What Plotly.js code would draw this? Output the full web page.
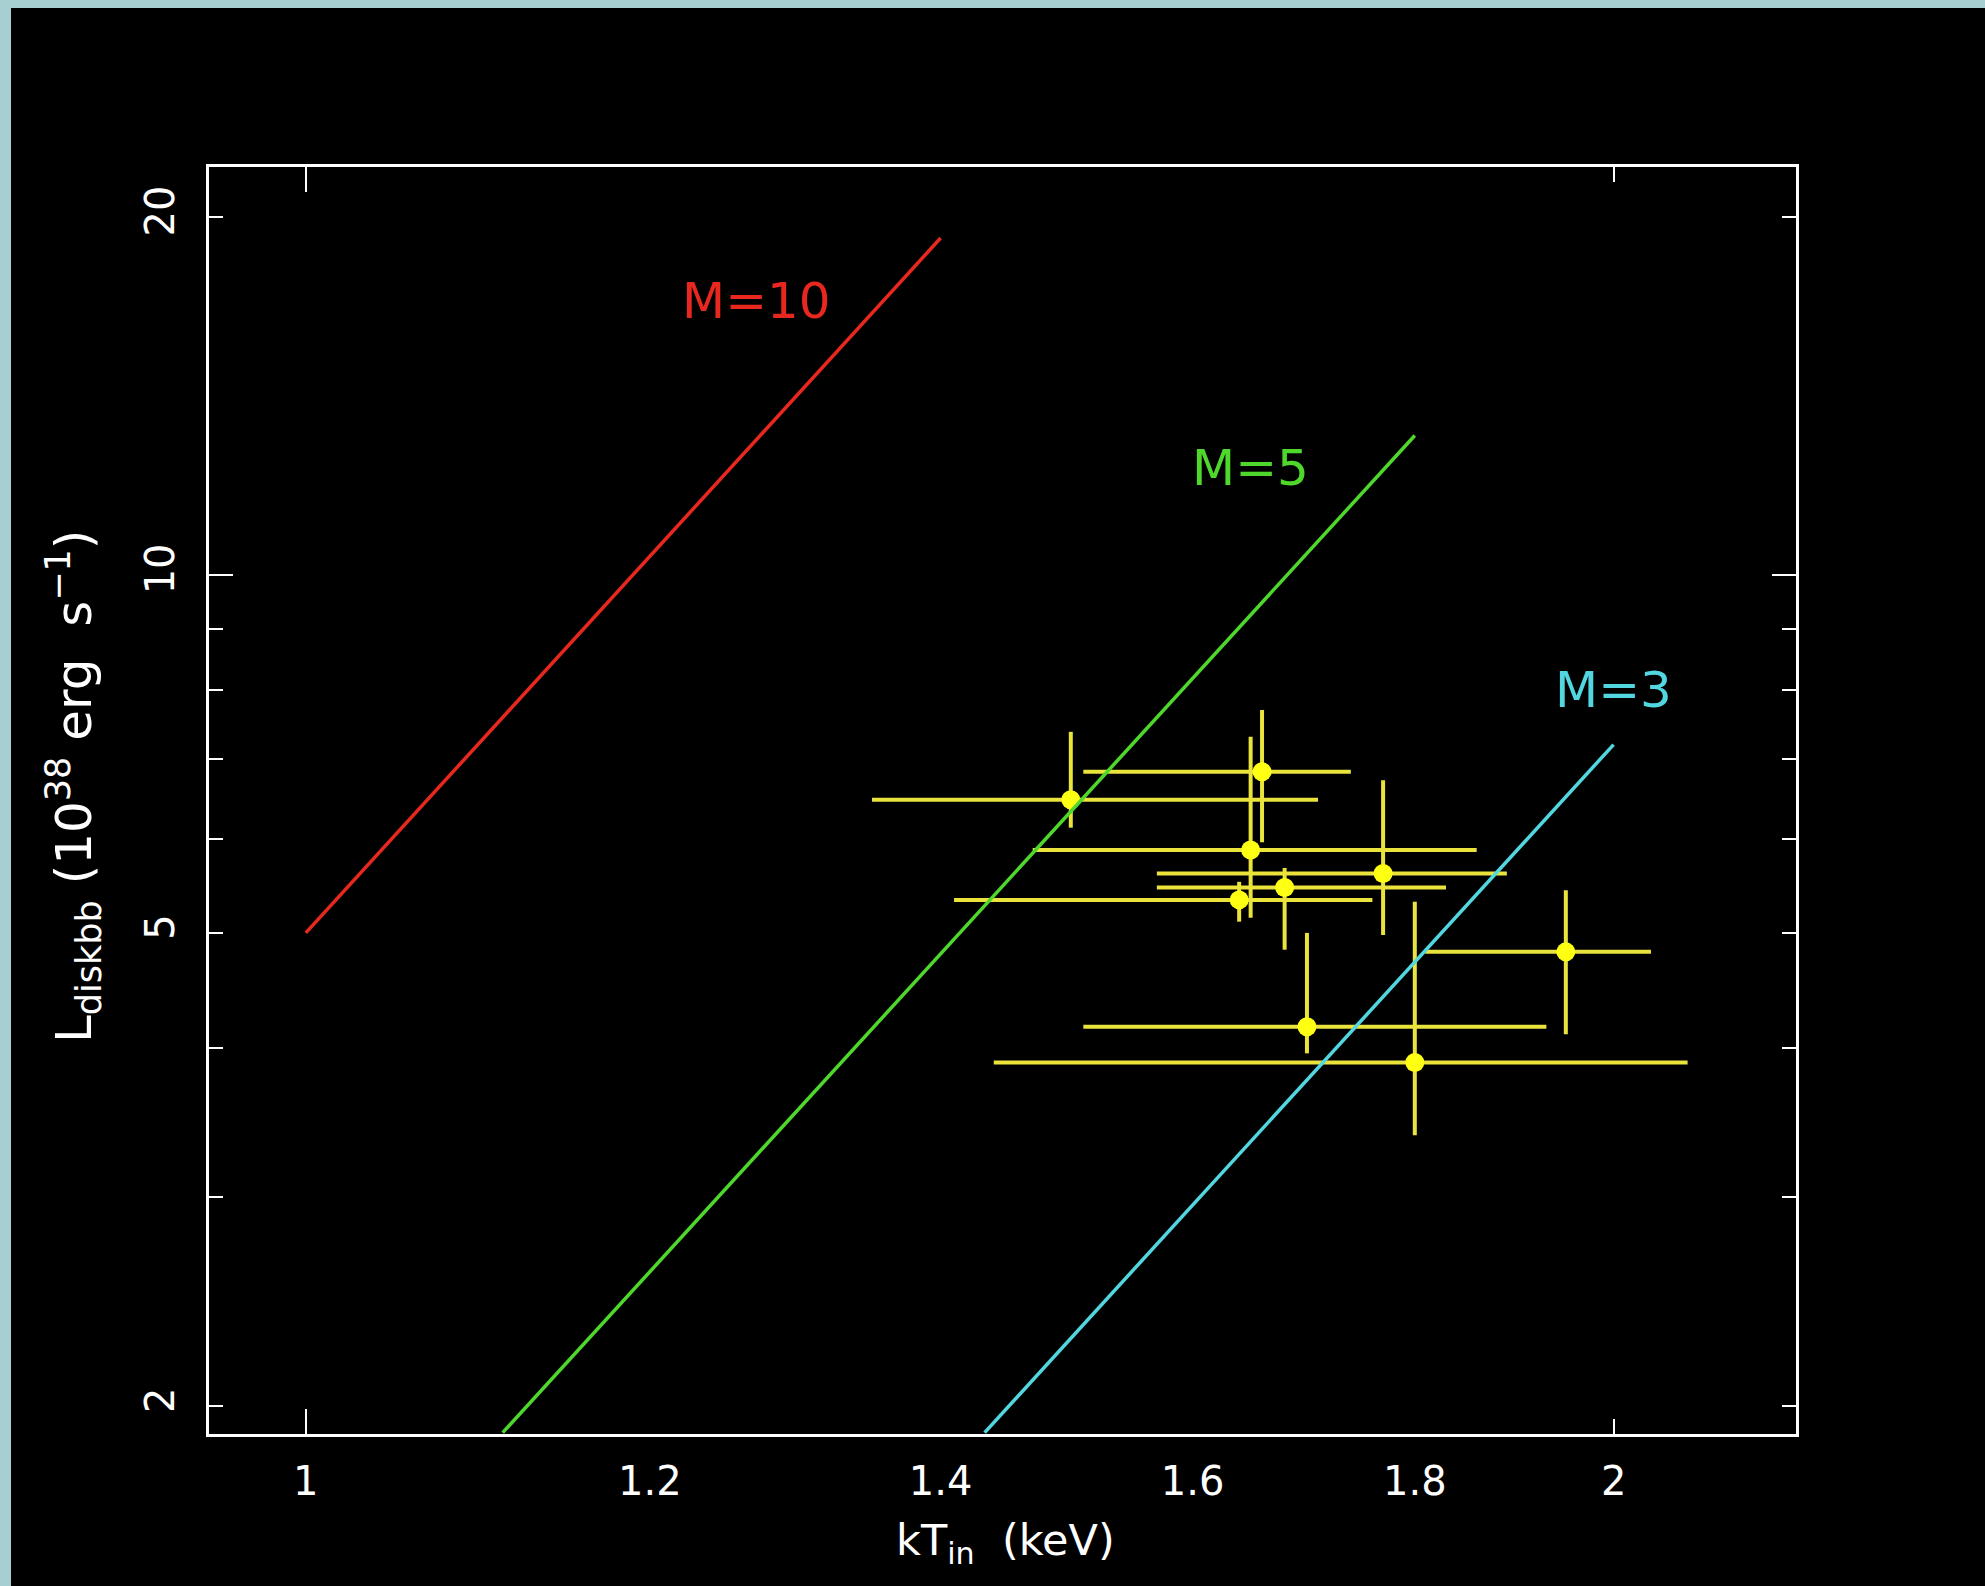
<!DOCTYPE html>
<html>
<head>
<meta charset="utf-8">
<script src="https://cdn.plot.ly/plotly-3.0.1.min.js"></script>
<style>
html,body{margin:0;padding:0;background:#a7cfd2;width:1985px;height:1586px;overflow:hidden;}
#chart{position:absolute;left:11px;top:8px;width:1974px;height:1578px;background:#000;}
</style>
</head>
<body>
<div id="chart"></div>
<script>
// ---- data ----
const kT    = [1.50, 1.66, 1.65, 1.77, 1.68, 1.64, 1.70, 1.80, 1.95];
const kTLow = [1.35, 1.51, 1.47, 1.57, 1.57, 1.41, 1.51, 1.44, 1.81];
const kTHigh= [1.71, 1.74, 1.86, 1.89, 1.83, 1.76, 1.93, 2.08, 2.04];
const Ldisk     = [6.47, 6.83, 5.87, 5.61, 5.46, 5.33, 4.17, 3.89, 4.82];
const LdiskLow  = [6.13, 5.96, 5.15, 4.98, 4.84, 5.11, 3.96, 3.38, 4.11];
const LdiskHigh = [7.38, 7.70, 7.31, 6.72, 5.67, 5.52, 5.00, 5.31, 5.43];

const modelNames = ['M=10', 'M=5', 'M=3'];
const modelX = [[1.0, 1.4], [1.11, 1.8], [1.433, 2.0]];
const modelY = [[5.0, 19.2], [1.9, 13.1], [1.9, 7.2]];
const modelColors = ['#e8281e', '#4fd82c', '#52d6e0'];
const labelX = [1.27, 1.65, 2.0];
const labelY = [17.0, 12.3, 8.0];

const xRange = [0.95, 2.203];
const yRange = [1.895, 22.03];
const xLabelVals = [1, 1.2, 1.4, 1.6, 1.8, 2];
const xLabelText = ['1', '1.2', '1.4', '1.6', '1.8', '2'];
const yLabelVals = [2, 5, 10, 20];
const yLabelText = ['2', '5', '10', '20'];
const xMajorTicks = [1];
const xMinorTicks = [2];
const yMajorTicks = [10];
const yMinorTicks = [2, 3, 4, 5, 6, 7, 8, 9, 20];

// ---- traces ----
const traces = [];
traces.push({
  type: 'scatter', mode: 'markers', x: kT, y: Ldisk,
  xaxis: 'x', yaxis: 'y',
  marker: {color: '#ffff14', size: 19},
  error_x: {type: 'data', symmetric: false,
    array: kT.map((v, i) => kTHigh[i] - v),
    arrayminus: kT.map((v, i) => v - kTLow[i]),
    color: '#e9e33c', thickness: 4, width: 0},
  error_y: {type: 'data', symmetric: false,
    array: Ldisk.map((v, i) => LdiskHigh[i] - v),
    arrayminus: Ldisk.map((v, i) => v - LdiskLow[i]),
    color: '#e9e33c', thickness: 4, width: 0},
  hoverinfo: 'x+y'
});
modelNames.forEach((n, i) => {
  traces.push({
    type: 'scatter', mode: 'lines', name: n,
    x: modelX[i], y: modelY[i], xaxis: 'x2', yaxis: 'y2',
    line: {color: modelColors[i], width: 3.5}
  });
});

const lg = v => Math.log10(v);
const tickFont = {family: 'DejaVu Sans', size: 40, color: '#ffffff'};

const annotations = modelNames.map((n, i) => ({
  text: n, x: lg(labelX[i]), y: lg(labelY[i]), xref: 'x', yref: 'y',
  showarrow: false, xanchor: 'center', yanchor: 'middle',
  font: {family: 'DejaVu Sans', size: 50, color: modelColors[i]}
}));
annotations.push({
  text: 'kT<sub>in</sub>\u00a0\u00a0(keV)', xref: 'paper', yref: 'paper',
  x: 0.5022, y: -0.062, xanchor: 'center', yanchor: 'top', showarrow: false,
  font: {family: 'DejaVu Sans', size: 43, color: '#ffffff'}
});
annotations.push({
  text: 'L<sub>diskbb</sub>\u00a0(10<sup>38</sup>\u00a0erg\u00a0\u00a0s<sup>\u22121</sup>)',
  xref: 'paper', yref: 'paper', x: -0.0851, y: 0.5114,
  xanchor: 'center', yanchor: 'middle', textangle: -90, showarrow: false,
  font: {family: 'DejaVu Sans', size: 50, color: '#ffffff'}
});

const layout = {
  width: 1974, height: 1578,
  margin: {l: 198, r: 189, t: 159, b: 152, pad: 0},
  paper_bgcolor: '#000000', plot_bgcolor: '#000000',
  showlegend: false,
  xaxis: {
    type: 'log', range: [lg(xRange[0]), lg(xRange[1])], autorange: false,
    tickmode: 'array', tickvals: xMajorTicks, ticks: 'inside', ticklen: 25,
    tickwidth: 2, tickcolor: '#ffffff', showticklabels: false,
    minor: {tickmode: 'array', tickvals: xMinorTicks, ticks: 'inside', ticklen: 15,
            tickwidth: 2, tickcolor: '#ffffff', showgrid: false},
    showline: true, linewidth: 3, linecolor: '#ffffff', mirror: 'ticks',
    showgrid: false, zeroline: false
  },
  yaxis: {
    type: 'log', range: [lg(yRange[0]), lg(yRange[1])], autorange: false,
    tickmode: 'array', tickvals: yMajorTicks, ticks: 'inside', ticklen: 24,
    tickwidth: 2, tickcolor: '#ffffff', showticklabels: false,
    minor: {tickmode: 'array', tickvals: yMinorTicks, ticks: 'inside', ticklen: 14,
            tickwidth: 2, tickcolor: '#ffffff', showgrid: false},
    showline: true, linewidth: 3, linecolor: '#ffffff', mirror: 'ticks',
    showgrid: false, zeroline: false
  },
  xaxis2: {
    type: 'log', range: [lg(xRange[0]), lg(xRange[1])], autorange: false,
    overlaying: 'x', side: 'bottom',
    tickmode: 'array', tickvals: xLabelVals, ticktext: xLabelText,
    ticks: '', showline: false, showgrid: false, zeroline: false,
    tickfont: tickFont, ticklabelstandoff: 20
  },
  yaxis2: {
    type: 'log', range: [lg(yRange[0]), lg(yRange[1])], autorange: false,
    overlaying: 'y', side: 'left',
    tickmode: 'array', tickvals: yLabelVals, ticktext: yLabelText,
    ticks: '', showline: false, showgrid: false, zeroline: false,
    tickangle: -90, tickfont: tickFont, ticklabelstandoff: 26
  },
  annotations: annotations
};

Plotly.newPlot('chart', traces, layout, {displayModeBar: false, staticPlot: true});
</script>
</body>
</html>
